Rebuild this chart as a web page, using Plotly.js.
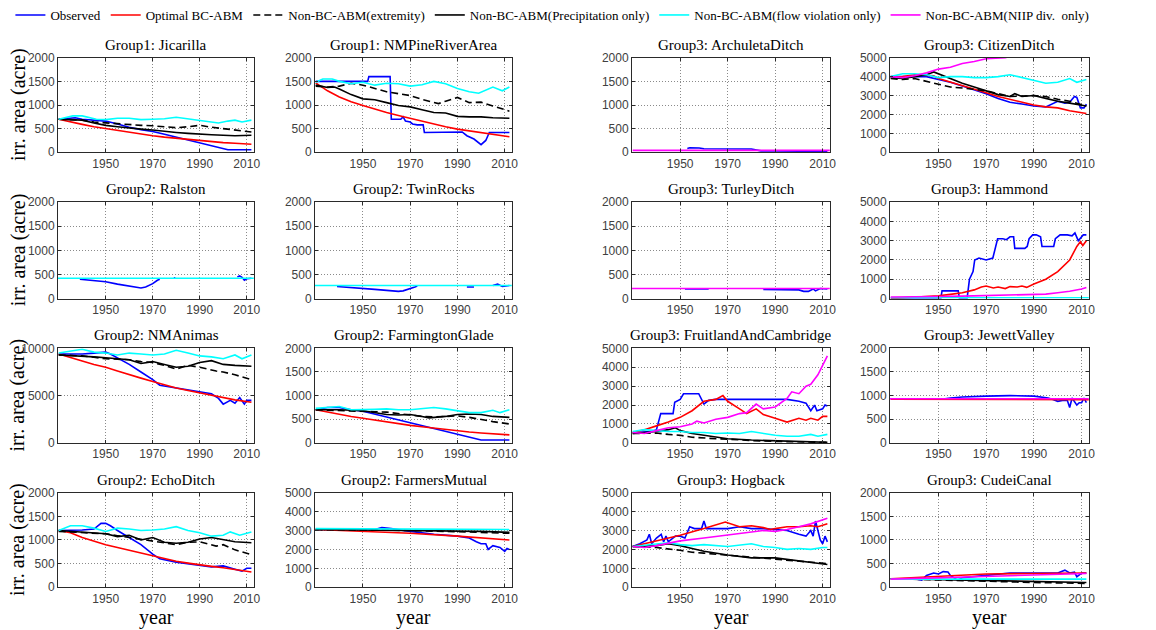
<!DOCTYPE html>
<html>
<head>
<meta charset="utf-8">
<script src="https://cdn.plot.ly/plotly-3.0.1.min.js"></script>
<style>html,body{margin:0;padding:0;background:#fff;}#chart{width:1156px;height:630px;}</style>
</head>
<body>
<div id="chart"></div>
<script>
// ---------------- DATA (year, irrigated area in acres) ----------------
const seriesNames = ["Observed", "Optimal BC-ABM", "Non-BC-ABM(extremity)", "Non-BC-ABM(Precipitation only)", "Non-BC-ABM(flow violation only)", "Non-BC-ABM(NIIP div.\u00a0 only)"];
const panelTitles = ["Group1: Jicarilla", "Group1: NMPineRiverArea", "Group3: ArchuletaDitch", "Group3: CitizenDitch",
  "Group2: Ralston", "Group2: TwinRocks", "Group3: TurleyDitch", "Group3: Hammond",
  "Group2: NMAnimas", "Group2: FarmingtonGlade", "Group3: FruitlandAndCambridge", "Group3: JewettValley",
  "Group2: EchoDitch", "Group2: FarmersMutual", "Group3: Hogback", "Group3: CudeiCanal"];
const yMax = [2000, 2000, 2000, 5000, 2000, 2000, 2000, 5000, 10000, 2000, 5000, 2000, 2000, 5000, 5000, 2000];
const yStep = [500, 500, 500, 1000, 500, 500, 500, 1000, 5000, 500, 1000, 500, 500, 1000, 1000, 500];
const xTickYears = [1950, 1970, 1990, 2010];

// Jicarilla
const jic_obs = [[1930,700],[1935,710],[1937,730],[1940,700],[1945,680],[1950,660],[1955,600],[1960,530],[1965,480],[1970,440],[1975,380],[1980,320],[1985,270],[1990,210],[1995,150],[2000,80],[2002,55],[2012,55]];
const jic_opt = [[1930,700],[1935,640],[1940,590],[1945,540],[1950,500],[1955,460],[1960,420],[1965,385],[1970,350],[1975,320],[1980,295],[1985,270],[1990,245],[1995,225],[2000,205],[2005,190],[2012,170]];
const jic_ext = [[1930,700],[1935,690],[1940,680],[1945,640],[1950,620],[1955,600],[1960,580],[1965,570],[1970,560],[1975,540],[1980,520],[1985,540],[1990,570],[1995,530],[2000,500],[2005,480],[2012,430]];
const jic_pre = [[1930,700],[1935,690],[1940,680],[1945,620],[1950,570],[1955,540],[1960,510],[1965,490],[1970,470],[1975,440],[1980,420],[1985,400],[1990,380],[1995,370],[2000,360],[2005,350],[2012,360]];
const jic_flow = [[1930,700],[1933,740],[1936,770],[1940,770],[1943,740],[1946,700],[1950,690],[1955,720],[1960,720],[1965,690],[1970,700],[1975,710],[1980,740],[1983,720],[1987,700],[1990,680],[1995,640],[1998,620],[2002,660],[2005,680],[2008,640],[2012,680]];
// NMPineRiverArea
const pin_obs = [[1930,1500],[1952,1500],[1952.5,1600],[1961.5,1600],[1962,700],[1966,700],[1967,750],[1968,660],[1970,640],[1971,600],[1973,580],[1975.5,580],[1976,420],[1990,420],[1992,430],[1994,350],[1997,280],[2000,160],[2002,250],[2003.5,420],[2012,420]];
const pin_opt = [[1930,1470],[1935,1300],[1940,1170],[1945,1070],[1950,990],[1955,910],[1960,840],[1965,780],[1970,720],[1975,650],[1980,590],[1985,540],[1990,490],[1995,450],[2000,410],[2005,370],[2012,330]];
const pin_ext = [[1930,1400],[1935,1380],[1940,1400],[1945,1460],[1950,1420],[1955,1350],[1960,1280],[1965,1240],[1970,1200],[1975,1120],[1980,1060],[1982,1030],[1985,1080],[1990,1160],[1995,1050],[2000,1060],[2005,980],[2012,870]];
const pin_pre = [[1930,1420],[1935,1370],[1938,1380],[1940,1340],[1945,1220],[1950,1130],[1955,1110],[1957,1090],[1960,1050],[1965,990],[1970,960],[1975,900],[1980,840],[1985,830],[1990,760],[1995,750],[2000,750],[2005,730],[2012,720]];
const pin_flow = [[1930,1480],[1933,1550],[1937,1550],[1940,1500],[1945,1450],[1950,1480],[1955,1420],[1960,1460],[1965,1450],[1970,1400],[1975,1430],[1980,1500],[1985,1450],[1990,1350],[1995,1280],[1999,1250],[2005,1380],[2009,1300],[2012,1380]];
// ArchuletaDitch
const arc_obs = [[1953,80],[1954,95],[1958,90],[1960,75],[1980,70],[1984,30],[1990,30],[1995,20],[2000,25],[2005,20],[2012,25]];
const arc_niip = [[1930,40],[2013,40]];
// CitizenDitch
const cit_obs = [[1930,4000],[1935,4000],[1940,4000],[1945,4000],[1950,3850],[1955,3700],[1960,3500],[1965,3300],[1970,3100],[1975,2850],[1980,2650],[1985,2550],[1990,2450],[1995,2400],[1998,2600],[2000,2700],[2003,2600],[2005,2650],[2007,2950],[2008,2900],[2009.5,2350],[2011,2350],[2012,2550]];
const cit_opt = [[1930,3950],[1935,4000],[1940,4100],[1945,4080],[1948,4050],[1950,3900],[1955,3720],[1960,3550],[1965,3350],[1970,3150],[1975,2950],[1980,2800],[1985,2650],[1990,2500],[1995,2400],[2000,2350],[2005,2200],[2012,2050]];
const cit_ext = [[1930,3900],[1935,3850],[1940,3900],[1945,3750],[1950,3600],[1955,3450],[1960,3400],[1965,3330],[1970,3250],[1975,3100],[1980,2950],[1985,2980],[1990,3000],[1995,2950],[2000,2800],[2005,2700],[2012,2450]];
const cit_pre = [[1930,3950],[1935,3900],[1940,4000],[1945,4100],[1948,4250],[1950,4150],[1955,3900],[1960,3650],[1965,3450],[1970,3250],[1975,3050],[1980,2950],[1982,3100],[1985,2950],[1990,3000],[1995,2850],[2000,2700],[2005,2600],[2012,2450]];
const cit_flow = [[1930,4000],[1935,4150],[1940,4150],[1945,4100],[1950,3950],[1955,4000],[1960,4000],[1965,3950],[1970,3950],[1975,4000],[1980,4100],[1985,3950],[1990,3800],[1995,3650],[2000,3700],[2005,3900],[2008,3700],[2012,3850]];
const cit_niip = [[1930,4000],[1935,3950],[1940,4050],[1945,4200],[1950,4400],[1955,4500],[1960,4700],[1965,4800],[1970,4950],[1978,5000],[1985,5250]];
// Ralston
const ral_obs = [[1939,400],[1945,370],[1950,350],[1955,300],[1960,260],[1965,220],[1967,240],[1970,310],[1972,380],[1973,400],[1974,null],[1979,430],[1979.6,430],[1980,null],[2006,450],[2007,470],[2008,440],[2009,380],[2010,410],[2012,420]];
const ral_flow = [[1929,420],[2013,420]];
// TwinRocks
const twi_obs = [[1939,250],[1945,230],[1950,220],[1955,190],[1960,170],[1965,150],[1967,160],[1970,200],[1972,240],[1973,260],[1974,null],[1994,240],[1997,240],[1998,null],[2005,270],[2007,300],[2009,250],[2012,270]];
const twi_flow = [[1929,270],[2013,270]];
// TurleyDitch
const tur_obs = [[1952,200],[1962,200],[1963,null],[1985,190],[1995,190],[1998,185],[2000,180],[2002,150],[2004,150],[2006,200],[2007,160],[2009,210],[2012,200]];
const tur_niip = [[1929,210],[2013,210]];
// Hammond
const ham_obs = [[1930,0],[1951,0],[1951.5,400],[1958.3,400],[1958.8,0],[1962,0],[1963,1000],[1964.5,1400],[1965.2,2000],[1967,2100],[1970,2000],[1972.8,2100],[1974.8,3100],[1977,3100],[1978.5,3050],[1980,3200],[1981.5,3200],[1982,2600],[1986.2,2600],[1987.2,2700],[1988,3100],[1989.5,3300],[1991,3300],[1992.8,3200],[1993.4,2700],[1998.3,2700],[1999,3100],[2001,3300],[2004,3300],[2006,3250],[2007.2,3400],[2008.6,3000],[2010.7,3300],[2012,3300]];
const ham_opt = [[1930,0],[1935,30],[1940,60],[1945,100],[1950,150],[1955,220],[1960,300],[1965,450],[1968,600],[1970,650],[1973,550],[1975,600],[1978,520],[1980,620],[1983,600],[1985,650],[1987,580],[1990,750],[1995,1000],[2000,1400],[2005,2000],[2008,2700],[2009.5,2950],[2010.5,2750],[2012,3000]];
const ham_flow = [[1930,40],[2013,40]];
const ham_niip = [[1930,80],[1940,80],[1950,110],[1960,130],[1970,150],[1980,180],[1990,200],[1995,230],[2000,300],[2005,380],[2010,500],[2012,580]];
// NMAnimas
const ani_obs = [[1930,9400],[1935,9400],[1940,9400],[1945,9500],[1950,9600],[1952,9400],[1955,9000],[1960,8300],[1965,7500],[1970,6700],[1973,6100],[1980,5800],[1990,5400],[1995,5200],[1998,4700],[2000,4100],[2003,4500],[2005,4200],[2007,4800],[2009,4100],[2010,4500],[2012,4500]];
const ani_opt = [[1930,9400],[1935,9000],[1940,8650],[1945,8300],[1950,8000],[1955,7600],[1960,7200],[1965,6850],[1970,6500],[1975,6150],[1980,5800],[1985,5550],[1990,5300],[1995,5050],[2000,4800],[2005,4550],[2012,4300]];
const ani_ext = [[1930,9300],[1935,9250],[1940,9200],[1945,9050],[1950,8900],[1955,8850],[1960,8800],[1965,8600],[1970,8500],[1975,8200],[1980,7800],[1985,8200],[1990,8000],[1997,7600],[2000,7500],[2005,7200],[2012,6700]];
const ani_pre = [[1930,9300],[1935,9250],[1940,9200],[1945,9100],[1950,9000],[1955,8900],[1960,8800],[1965,8400],[1970,8600],[1975,8300],[1980,8000],[1985,8100],[1990,8500],[1995,8700],[2000,8300],[2005,8200],[2012,8100]];
const ani_flow = [[1930,9500],[1935,9700],[1940,9900],[1945,9600],[1950,9500],[1955,9300],[1960,9500],[1965,9400],[1970,9300],[1975,9400],[1980,9800],[1985,9500],[1990,9200],[1995,9100],[2000,8900],[2005,9300],[2008,8900],[2012,9300]];
// FarmingtonGlade
const fgl_obs = [[1930,700],[1935,750],[1940,750],[1945,700],[1950,670],[1955,610],[1960,550],[1965,490],[1970,430],[1975,360],[1980,300],[1985,240],[1990,180],[1995,120],[2000,60],[2012,60]];
const fgl_opt = [[1930,700],[1935,650],[1940,600],[1945,560],[1950,520],[1955,480],[1960,440],[1965,400],[1970,370],[1975,340],[1980,310],[1985,280],[1990,250],[1995,230],[2000,210],[2005,190],[2012,170]];
const fgl_ext = [[1930,700],[1940,690],[1950,680],[1955,660],[1960,650],[1965,620],[1970,580],[1975,560],[1980,550],[1985,560],[1990,570],[1995,540],[2000,490],[2005,450],[2012,400]];
const fgl_pre = [[1930,700],[1940,700],[1950,680],[1955,640],[1960,600],[1965,590],[1970,600],[1975,560],[1978,530],[1985,560],[1990,600],[1995,610],[2000,600],[2005,560],[2012,540]];
const fgl_flow = [[1930,730],[1935,750],[1940,770],[1945,700],[1950,700],[1955,710],[1960,720],[1965,700],[1970,700],[1975,720],[1980,750],[1985,720],[1990,680],[1995,640],[2000,640],[2005,690],[2008,640],[2012,700]];
// FruitlandAndCambridge
const fru_obs = [[1930,550],[1938,600],[1940,700],[1941.8,1550],[1947,1550],[1947.7,2150],[1950,2300],[1951.4,2600],[1957.8,2600],[1959,2300],[1960,2050],[1962,2250],[1965,2300],[1980,2300],[1995,2300],[2000,2200],[2003,2100],[2005,1700],[2006.6,2000],[2007.6,1700],[2010,1800],[2011,2000],[2012,1950]];
const fru_opt = [[1930,550],[1935,700],[1940,900],[1945,1100],[1950,1350],[1955,1700],[1960,2200],[1962,2250],[1965,2300],[1968,2500],[1970,2200],[1975,1800],[1978,1550],[1982,1800],[1985,1500],[1990,1300],[1995,1100],[2000,1300],[2003,1200],[2005,1300],[2008,1200],[2010,1400],[2012,1400]];
const fru_ext = [[1930,500],[1935,520],[1940,520],[1945,450],[1950,400],[1955,300],[1960,250],[1965,220],[1970,200],[1980,120],[1990,80],[2000,50],[2012,30]];
const fru_pre = [[1930,500],[1935,550],[1940,600],[1945,700],[1948,800],[1950,650],[1955,500],[1960,400],[1965,300],[1970,220],[1980,150],[1990,120],[2000,60],[2012,30]];
const fru_flow = [[1930,600],[1935,700],[1940,650],[1945,600],[1950,600],[1955,550],[1960,550],[1965,500],[1970,520],[1975,500],[1980,600],[1985,500],[1990,400],[1995,350],[2000,350],[2005,450],[2008,350],[2012,450]];
const fru_niip = [[1930,550],[1935,500],[1940,650],[1945,800],[1950,850],[1955,1000],[1957,1150],[1960,1050],[1965,1250],[1970,1350],[1975,1550],[1978,1600],[1982,2050],[1985,1800],[1990,1900],[1995,2350],[1997,2700],[2000,2600],[2003,3000],[2005,3100],[2008,3600],[2012,4600]];
// JewettValley
const jew_obs = [[1930,930],[1952,930],[1955,950],[1960,970],[1970,990],[1980,1000],[1990,990],[1996,950],[1998,920],[2000,880],[2002,900],[2004,900],[2005,750],[2006,950],[2008,800],[2009,850],[2010,850],[2011,950],[2012,850]];
const jew_opt = [[1930,925],[2013,915]];
const jew_niip = [[1929,935],[2013,935]];
// EchoDitch
const ech_obs = [[1930,1200],[1935,1200],[1940,1210],[1945,1230],[1947,1300],[1948,1350],[1950,1350],[1952,1300],[1955,1200],[1960,1050],[1965,900],[1970,700],[1973,600],[1980,530],[1985,500],[1990,460],[1995,430],[2000,450],[2003,400],[2005,380],[2008,340],[2010,400],[2012,400]];
const ech_opt = [[1930,1200],[1935,1150],[1940,1050],[1945,970],[1950,900],[1955,840],[1960,780],[1965,720],[1970,660],[1975,600],[1980,550],[1985,510],[1990,470],[1995,440],[2000,410],[2005,370],[2012,320]];
const ech_ext = [[1930,1180],[1935,1170],[1940,1150],[1945,1140],[1950,1130],[1955,1090],[1960,1050],[1965,1010],[1970,980],[1975,940],[1980,900],[1985,950],[1990,960],[1997,870],[2000,900],[2005,790],[2012,690]];
const ech_pre = [[1930,1200],[1935,1180],[1940,1170],[1945,1150],[1950,1130],[1955,1070],[1960,1100],[1965,1000],[1970,1050],[1975,950],[1980,930],[1985,950],[1990,1020],[1995,1050],[2000,1000],[2005,960],[2012,940]];
const ech_flow = [[1930,1200],[1935,1300],[1940,1300],[1945,1250],[1950,1180],[1955,1250],[1960,1230],[1965,1200],[1970,1210],[1975,1230],[1980,1280],[1985,1200],[1990,1150],[1995,1080],[2000,1100],[2003,1170],[2007,1100],[2012,1170]];
// FarmersMutual
const fmu_obs = [[1930,3050],[1955,3050],[1958,3150],[1962,3100],[1970,2950],[1980,2800],[1990,2700],[1995,2600],[1998,2400],[2000,2300],[2002,2300],[2003,2000],[2005,2200],[2008,2100],[2010,1900],[2011,2050],[2012,2000]];
const fmu_opt = [[1930,3050],[1950,2950],[1970,2850],[1990,2700],[2012,2500]];
const fmu_ext = [[1930,3050],[1970,3000],[2000,2900],[2012,2850]];
const fmu_pre = [[1930,3050],[1970,3000],[2000,2950],[2012,2900]];
const fmu_flow = [[1930,3100],[1970,3080],[2000,3050],[2012,3050]];
// Hogback
const hog_obs = [[1930,2150],[1933,2300],[1936,2500],[1937,2800],[1938,2300],[1940,2600],[1942,2800],[1943,2400],[1944,2700],[1945,2400],[1948,2700],[1950,2700],[1952,2600],[1954,3200],[1956,3100],[1959,3100],[1960,3500],[1961,3100],[1965,3100],[1970,3100],[1975,3200],[1980,3100],[1985,3100],[1990,3050],[1995,3000],[2000,2800],[2003,2700],[2005,3000],[2006,2700],[2007,3500],[2008,3000],[2009,2500],[2010,2300],[2011,2700],[2012,2400]];
const hog_opt = [[1930,2150],[1940,2450],[1950,2750],[1960,3100],[1969,3450],[1975,3200],[1980,3250],[1985,3150],[1988,3050],[1990,3100],[1995,3200],[2000,3200],[2005,3250],[2008,3200],[2012,3350]];
const hog_ext = [[1930,2150],[1940,2100],[1950,1950],[1955,1850],[1960,1800],[1970,1700],[1980,1600],[1990,1500],[2000,1400],[2005,1350],[2012,1250]];
const hog_pre = [[1930,2150],[1940,2200],[1945,2300],[1950,2200],[1955,2050],[1960,1900],[1970,1700],[1980,1550],[1990,1550],[2000,1400],[2012,1200]];
const hog_flow = [[1930,2150],[1940,2300],[1945,2350],[1950,2250],[1955,2200],[1960,2250],[1970,2150],[1980,2300],[1985,2150],[1990,2100],[1995,2000],[2000,2050],[2005,2000],[2010,2100],[2012,2100]];
const hog_niip = [[1930,2150],[1935,2100],[1940,2200],[1950,2450],[1960,2600],[1970,2750],[1980,2900],[1985,3000],[1990,2950],[1995,3050],[2000,3200],[2005,3350],[2012,3650]];
// CudeiCanal
const cud_obs = [[1940,180],[1943,150],[1945,250],[1948,300],[1950,280],[1952,330],[1954,320],[1955,250],[1958,150],[1960,200],[1970,250],[1980,300],[1990,300],[2000,300],[2003,360],[2005,300],[2007,320],[2008,220],[2010,300],[2012,300]];
const cud_opt = [[1930,180],[1950,230],[1970,280],[1990,290],[2012,300]];
const cud_ext = [[1930,180],[1950,150],[1970,120],[1990,100],[2012,80]];
const cud_pre = [[1930,180],[1950,160],[1970,140],[1990,120],[2012,100]];
const cud_flow = [[1930,170],[2012,170]];
const cud_niip = [[1930,170],[1950,200],[1970,230],[1990,260],[2012,290]];

// series per panel: [seriesIndex, data]
const panelSeries = [
  [[0,jic_obs],[1,jic_opt],[2,jic_ext],[3,jic_pre],[4,jic_flow]],
  [[0,pin_obs],[1,pin_opt],[2,pin_ext],[3,pin_pre],[4,pin_flow]],
  [[0,arc_obs],[5,arc_niip]],
  [[0,cit_obs],[1,cit_opt],[2,cit_ext],[3,cit_pre],[4,cit_flow],[5,cit_niip]],
  [[0,ral_obs],[4,ral_flow]],
  [[0,twi_obs],[4,twi_flow]],
  [[0,tur_obs],[5,tur_niip]],
  [[0,ham_obs],[1,ham_opt],[4,ham_flow],[5,ham_niip]],
  [[0,ani_obs],[1,ani_opt],[2,ani_ext],[3,ani_pre],[4,ani_flow]],
  [[0,fgl_obs],[1,fgl_opt],[2,fgl_ext],[3,fgl_pre],[4,fgl_flow]],
  [[0,fru_obs],[1,fru_opt],[2,fru_ext],[3,fru_pre],[4,fru_flow],[5,fru_niip]],
  [[0,jew_obs],[1,jew_opt],[5,jew_niip]],
  [[0,ech_obs],[1,ech_opt],[2,ech_ext],[3,ech_pre],[4,ech_flow]],
  [[0,fmu_obs],[1,fmu_opt],[2,fmu_ext],[3,fmu_pre],[4,fmu_flow]],
  [[0,hog_obs],[1,hog_opt],[2,hog_ext],[3,hog_pre],[4,hog_flow],[5,hog_niip]],
  [[0,cud_obs],[1,cud_opt],[2,cud_ext],[3,cud_pre],[4,cud_flow],[5,cud_niip]]
];

// ---------------- STYLE / LAYOUT ----------------
const W = 1156, H = 630;
const colors = ["#0000ff", "#ff0000", "#000000", "#000000", "#00ffff", "#ff00ff"];
const dashes = ["solid", "solid", "7px,4px", "solid", "solid", "solid"];
const colPx = [[58, 254], [315, 512], [632, 830], [890, 1089]];
const rowPx = [[55, 150], [200, 297], [347, 442], [492, 587]];
const serif = "Liberation Serif, Times New Roman, serif";
const sans = "Liberation Sans, Arial, sans-serif";

const traces = [];
const shown = {};
panelSeries.forEach((list, p) => {
  list.forEach(([s, d]) => {
    const first = !shown[s];
    shown[s] = true;
    traces.push({
      type: "scatter", mode: "lines",
      x: d.map(v => v[0]), y: d.map(v => v[1]),
      xaxis: "x" + (p + 1), yaxis: "y" + (p + 1),
      name: seriesNames[s], legendgroup: "s" + s, showlegend: first, legendrank: s + 1,
      line: { color: colors[s], width: 1.6, dash: dashes[s] },
      connectgaps: false, hoverinfo: "x+y+name"
    });
  });
});

const layout = {
  width: W, height: H,
  margin: { l: 0, r: 0, t: 0, b: 0 },
  paper_bgcolor: "#fff", plot_bgcolor: "#fff",
  showlegend: true,
  legend: {
    orientation: "h", x: 0.009, y: 1.005, xanchor: "left", yanchor: "top",
    font: { family: serif, size: 13, color: "#000" },
    itemwidth: 30, tracegroupgap: 0, bgcolor: "rgba(0,0,0,0)"
  },
  annotations: []
};

const axisCommon = {
  showgrid: true, gridcolor: "#8a8a8a", griddash: "1px,2px", gridwidth: 1,
  zeroline: false, showline: true, mirror: "ticks", linecolor: "#2a2a2a", linewidth: 1,
  ticks: "inside", ticklen: 3, tickcolor: "#2a2a2a",
  tickfont: { family: sans, size: 12, color: "#404040" }, fixedrange: true
};

for (let p = 0; p < 16; p++) {
  const r = Math.floor(p / 4), c = p % 4;
  const [x0, x1] = colPx[c], [t, b] = rowPx[r];
  const xd = [x0 / W, x1 / W], yd = [1 - b / H, 1 - t / H];
  const n = p + 1;
  layout["xaxis" + n] = Object.assign({}, axisCommon, {
    domain: xd, anchor: "y" + n, range: [1929.7, 2013.1],
    tickvals: xTickYears, ticktext: xTickYears.map(String)
  });
  const tv = [];
  for (let v = 0; v <= yMax[p]; v += yStep[p]) tv.push(v);
  layout["yaxis" + n] = Object.assign({}, axisCommon, {
    domain: yd, anchor: "x" + n, range: [0, yMax[p]],
    tickvals: tv, ticktext: tv.map(String)
  });
  layout.annotations.push({
    text: panelTitles[p], xref: "paper", yref: "paper",
    x: (xd[0] + xd[1]) / 2, y: yd[1], xanchor: "center", yanchor: "bottom", yshift: 3,
    showarrow: false, font: { family: serif, size: 15, color: "#000" }
  });
  if (c === 0) {
    layout.annotations.push({
      text: "irr. area (acre)", xref: "paper", yref: "paper",
      x: 18 / W, y: (yd[0] + yd[1]) / 2, xanchor: "center", yanchor: "middle",
      textangle: -90, showarrow: false, font: { family: serif, size: 20, color: "#000" }
    });
  }
  if (r === 3) {
    layout.annotations.push({
      text: "year", xref: "paper", yref: "paper",
      x: (xd[0] + xd[1]) / 2, y: 1 - 617 / H, xanchor: "center", yanchor: "middle",
      showarrow: false, font: { family: serif, size: 20, color: "#000" }
    });
  }
}

Plotly.newPlot("chart", traces, layout, { displayModeBar: false, staticPlot: true });
</script>
</body>
</html>
